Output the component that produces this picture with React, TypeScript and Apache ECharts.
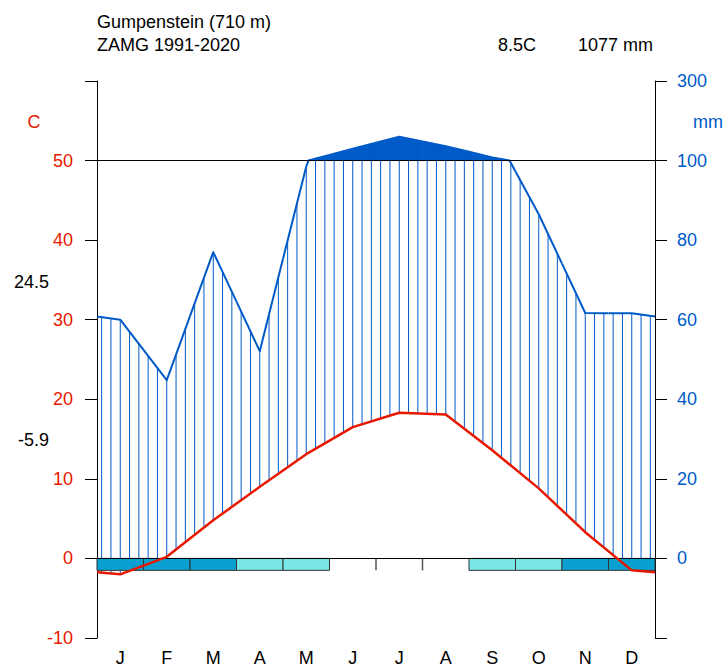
import React, { useEffect, useRef } from 'react';
import * as echarts from 'echarts';

// ---- data ----
const months = ['J', 'F', 'M', 'A', 'M', 'J', 'J', 'A', 'S', 'O', 'N', 'D'];
const temperature = [-2.0, 0.2, 4.8, 9.0, 13.1, 16.5, 18.3, 18.1, 13.6, 8.8, 3.3, -1.5];
const precipitation = [60, 44.8, 77, 52.1, 98.5, 130, 160, 136, 108, 86.5, 61.7, 61.6];
const frost = ['sure', 'sure', 'sure', 'probable', 'probable', 'none', 'none', 'none', 'probable', 'probable', 'sure', 'sure'];
const tempTicks = [-10, 0, 10, 20, 30, 40, 50];
const precipTickLabels = ['0', '20', '40', '60', '80', '100', '300'];
const station = 'Gumpenstein (710 m)';
const source = 'ZAMG 1991-2020';
const meanTemp = '8.5C';
const totalPrecip = '1077 mm';
const maxWarmest = '24.5';
const minColdest = '-5.9';

// ---- style ----
const PCOL = '#005ac8';
const TCOL = '#e81800';
const PFCOL = '#79e6e8';
const SFCOL = '#09a0d1';
const FONT = '"Liberation Sans", Arial, Helvetica, sans-serif';
const FROST_DEPTH = 1.5;

function interp(arr: number[], x: number) {
  const u = x - 0.5;
  const j = Math.floor(u);
  const f = u - j;
  const a = arr[((j % 12) + 12) % 12];
  const b = arr[(((j + 1) % 12) + 12) % 12];
  return a + (b - a) * f;
}
const toAxis = (p: number) => (p <= 100 ? p / 2 : 50 + (p - 100) / 20);

function precipSamples(x0: number, x1: number) {
  const knots = [x0];
  const mid = Math.floor(x0) + 0.5;
  if (mid > x0 && mid < x1) knots.push(mid);
  knots.push(x1);
  const out: number[][] = [];
  for (let k = 0; k < knots.length - 1; k++) {
    const a = knots[k];
    const b = knots[k + 1];
    const pa = interp(precipitation, a);
    const pb = interp(precipitation, b);
    out.push([a, pa]);
    if ((pa - 100) * (pb - 100) < 0) {
      out.push([a + ((100 - pa) / (pb - pa)) * (b - a), 100]);
    }
  }
  out.push([x1, interp(precipitation, x1)]);
  return out;
}

export default function App() {
  const ref = useRef<HTMLDivElement>(null);
  useEffect(() => {
    if (!ref.current) return;
    const chart = echarts.init(ref.current, undefined, { renderer: 'svg' });
    const edgeT = (temperature[0] + temperature[11]) / 2;
    const tempLine = [[0, edgeT], ...temperature.map((t, i) => [i + 0.5, t]), [12, edgeT]];

    const txt = (text: string, x: number, y: number, color: string, align = 'left') => ({
      type: 'text',
      x,
      y,
      silent: true,
      style: { text, fill: color, fontSize: 18, fontFamily: FONT, align, verticalAlign: 'middle' },
    });

    chart.setOption({
      animation: false,
      grid: { left: 97, right: 68, top: 81, bottom: 30, containLabel: false, outerBoundsMode: 'none' },
      xAxis: [
        { type: 'value', min: 0, max: 12, show: false },
        {
          type: 'category',
          data: months,
          position: 'bottom',
          boundaryGap: true,
          axisLine: { show: false },
          axisTick: { show: false },
          splitLine: { show: false },
          axisLabel: { color: '#000', fontSize: 18, lineHeight: 18, fontFamily: FONT, margin: 11 },
        },
      ],
      yAxis: [
        {
          type: 'value',
          min: -10,
          max: 60,
          interval: 10,
          position: 'left',
          axisLine: { show: true, lineStyle: { color: '#000', width: 1 } },
          axisTick: { show: true, inside: false, length: 12, lineStyle: { color: '#000', width: 1 } },
          splitLine: { show: false },
          axisLabel: {
            color: TCOL,
            fontSize: 18,
            fontFamily: FONT,
            margin: 24,
            formatter: (v: number) => (tempTicks.includes(v) ? String(v) : ''),
          },
        },
        {
          type: 'value',
          min: -10,
          max: 60,
          interval: 10,
          position: 'right',
          axisLine: { show: true, lineStyle: { color: '#000', width: 1 } },
          axisTick: { show: true, inside: false, length: 12, lineStyle: { color: '#000', width: 1 } },
          splitLine: { show: false },
          axisLabel: {
            color: PCOL,
            fontSize: 18,
            fontFamily: FONT,
            margin: 22,
            formatter: (v: number) => (v < 0 ? '' : precipTickLabels[v / 10] ?? ''),
          },
        },
      ],
      graphic: [
        txt(station, 97, 22, '#000'),
        txt(source, 97, 45, '#000'),
        txt(meanTemp, 498, 45, '#000'),
        txt(totalPrecip, 653, 45, '#000', 'right'),
        txt('C', 34, 122, TCOL, 'center'),
        txt('mm', 693, 122, PCOL),
        txt(maxWarmest, 49, 282, '#000', 'right'),
        txt(minColdest, 49, 440, '#000', 'right'),
      ],
      series: [
        {
          type: 'line',
          xAxisIndex: 0,
          yAxisIndex: 0,
          data: [],
          z: 1,
          markLine: {
            silent: true,
            symbol: ['none', 'none'],
            label: { show: false },
            lineStyle: { color: '#000', width: 1, type: 'solid' },
            data: [{ yAxis: 0 }, { yAxis: 50 }],
          },
        },
        {
          type: 'custom',
          xAxisIndex: 0,
          yAxisIndex: 0,
          z: 2,
          silent: true,
          data: precipitation.map((p, i) => [i, p]),
          renderItem: (params: any, api: any) => {
            const i = api.value(0) as number;
            const children: any[] = [];
            for (let k = 0; k < 5; k++) {
              const x = i + 0.1 + 0.2 * k;
              const p = toAxis(interp(precipitation, x));
              const t = interp(temperature, x);
              const top = Math.min(p, 50);
              if (top > t) {
                const a = api.coord([x, top]);
                const b = api.coord([x, Math.max(t, -10)]);
                children.push({
                  type: 'line',
                  shape: { x1: a[0], y1: a[1], x2: b[0], y2: b[1] },
                  style: { stroke: PCOL, lineWidth: 1 },
                });
              }
            }
            const samples = precipSamples(i, i + 1);
            let run: number[][] = [];
            const flush = () => {
              if (run.length >= 2) {
                const pts = run.map(([x, p]) => api.coord([x, toAxis(p)]));
                pts.push(api.coord([run[run.length - 1][0], 50]));
                pts.push(api.coord([run[0][0], 50]));
                children.push({
                  type: 'polygon',
                  shape: { points: pts },
                  style: { fill: PCOL, stroke: PCOL, lineWidth: 0.6 },
                });
              }
              run = [];
            };
            for (const s of samples) {
              if (s[1] >= 100 - 1e-9) run.push(s);
              else flush();
            }
            flush();
            children.push({
              type: 'polyline',
              shape: { points: samples.map(([x, p]) => api.coord([x, toAxis(p)])) },
              style: { stroke: PCOL, lineWidth: 2, fill: 'none', lineJoin: 'round' },
            });
            return { type: 'group', children };
          },
        },
        {
          type: 'custom',
          xAxisIndex: 0,
          yAxisIndex: 0,
          z: 3,
          silent: true,
          data: frost.map((f, i) => [i, f === 'sure' ? 2 : f === 'probable' ? 1 : 0]),
          renderItem: (params: any, api: any) => {
            const i = api.value(0) as number;
            const kind = api.value(1) as number;
            const a = api.coord([i, 0]);
            const b = api.coord([i + 1, -FROST_DEPTH]);
            if (kind === 0) {
              const nextNone = i < 11 && frost[i + 1] === 'none';
              if (!nextNone) return { type: 'group', children: [] };
              return {
                type: 'line',
                shape: { x1: b[0], y1: a[1], x2: b[0], y2: b[1] },
                style: { stroke: '#555', lineWidth: 1.5 },
              };
            }
            return {
              type: 'rect',
              shape: { x: a[0], y: a[1], width: b[0] - a[0], height: b[1] - a[1] },
              style: { fill: kind === 2 ? SFCOL : PFCOL, stroke: '#333', lineWidth: 1 },
            };
          },
        },
        {
          type: 'line',
          xAxisIndex: 0,
          yAxisIndex: 0,
          z: 5,
          silent: true,
          symbol: 'none',
          showSymbol: false,
          data: tempLine,
          lineStyle: { color: TCOL, width: 2.5 },
        },
      ],
    });
    return () => chart.dispose();
  }, []);
  return (
    <div
      ref={ref}
      style={{ position: 'fixed', left: 0, top: 0, width: 723, height: 668, background: '#fff' }}
    />
  );
}
